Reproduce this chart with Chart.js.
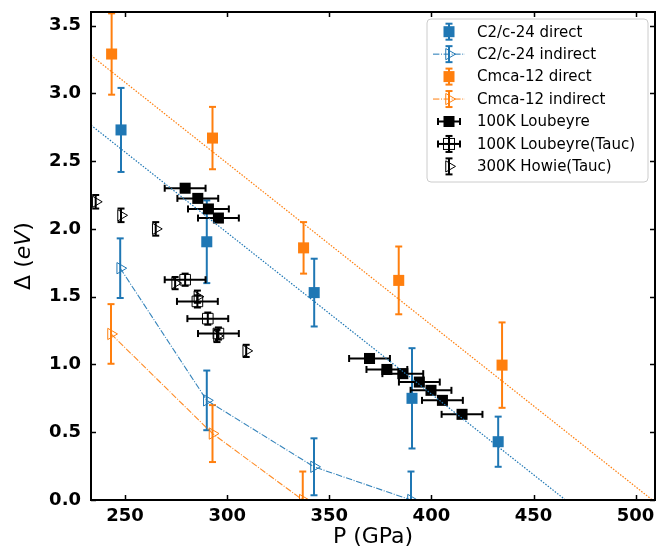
<!DOCTYPE html>
<html lang="en">
<head>
<meta charset="UTF-8">
<title>Band gap vs pressure</title>
<script src="https://cdn.jsdelivr.net/npm/chart.js"></script>
<style>
  body { margin: 0; background: #fff; }
</style>
</head>
<body>
<canvas id="gapChart" width="657" height="550"></canvas>
<script>
// values
const pTicks = [250, 300, 350, 400, 450, 500];
const gapTicks = [0, 0.5, 1.0, 1.5, 2.0, 2.5, 3.0, 3.5];

const c2cDirectP = [248, 290, 342.6, 390.5, 432.7];
const c2cDirectGap = [2.73, 1.905, 1.53, 0.75, 0.43];
const c2cDirectErr = [0.31, 0.305, 0.25, 0.37, 0.185];

const c2cIndirectP = [247.6, 290, 342.5, 390];
const c2cIndirectGap = [1.71, 0.735, 0.245, 0.0];
const c2cIndirectErr = [0.22, 0.22, 0.21, 0.21];

const cmcaDirectP = [243.4, 292.8, 337.4, 384, 434.6];
const cmcaDirectGap = [3.29, 2.67, 1.86, 1.62, 0.995];
const cmcaDirectErr = [0.30, 0.23, 0.19, 0.25, 0.315];

const cmcaIndirectP = [243.1, 292.8, 337];
const cmcaIndirectGap = [1.225, 0.49, 0.0];
const cmcaIndirectErr = [0.22, 0.21, 0.21];

const loubeyreP = [279.4, 285.6, 290.8, 295.7, 369.7, 378.2, 386, 394.1, 399.8, 405.4, 415];
const loubeyreGap = [2.30, 2.225, 2.147, 2.08, 1.044, 0.963, 0.932, 0.87, 0.809, 0.735, 0.632];
const loubeyrePErr = [10, 10, 10, 10, 10, 10, 10, 10, 10, 10, 10];

const taucP = [279.4, 285.4, 290.5, 295.7];
const taucGap = [1.625, 1.465, 1.338, 1.228];
const taucPErr = [10, 10, 10, 10];
const taucGapErr = [0.045, 0.045, 0.045, 0.045];

const howieP = [235.6, 248, 265, 274.5, 285.4, 295, 309.3];
const howieGap = [2.20, 2.10, 2.00, 1.60, 1.50, 1.21, 1.10];
const howieErr = [0.05, 0.05, 0.05, 0.045, 0.045, 0.045, 0.045];

// linear fits through the direct gaps (end points)
const c2cFitP = [233.3, 465.7];
const c2cFitGap = [2.765, 0];
const cmcaFitP = [233.3, 508.2];
const cmcaFitGap = [3.28, 0];

const BLUE = '#1f77b4';
const ORANGE = '#ff7f0e';
const FONT = "'DejaVu Sans', sans-serif";

const pts = (xs, ys) => xs.map((v, i) => ({x: v, y: ys[i]}));

// error bars drawn under the markers, like matplotlib does
const errorBars = {
    id: 'errorBars',
    beforeDatasetsDraw(chart) {
        const {ctx, chartArea: a, scales: {x, y}} = chart;
        const cap = 3.5;
        ctx.save();
        ctx.beginPath();
        ctx.rect(a.left, a.top, a.right - a.left, a.bottom - a.top);
        ctx.clip();
        ctx.lineWidth = 2;
        const seg = (x1, y1, x2, y2) => { ctx.beginPath(); ctx.moveTo(x1, y1); ctx.lineTo(x2, y2); ctx.stroke(); };
        chart.data.datasets.forEach(ds => {
            if (!ds.errY && !ds.errX) return;
            ctx.strokeStyle = ds.errColor;
            ds.data.forEach((pt, i) => {
                const px = x.getPixelForValue(pt.x), py = y.getPixelForValue(pt.y);
                if (ds.errY) {
                    const t = y.getPixelForValue(pt.y + ds.errY[i]);
                    const b = y.getPixelForValue(pt.y - ds.errY[i]);
                    seg(px, t, px, b);
                    seg(px - cap, t, px + cap, t);
                    seg(px - cap, b, px + cap, b);
                }
                if (ds.errX) {
                    const l = x.getPixelForValue(pt.x - ds.errX[i]);
                    const r = x.getPixelForValue(pt.x + ds.errX[i]);
                    seg(l, py, r, py);
                    seg(l, py - cap, l, py + cap);
                    seg(r, py - cap, r, py + cap);
                }
            });
        });
        ctx.restore();
    }
};

// box around the plot, inward ticks on four sides, y title
const frame = {
    id: 'frame',
    afterDraw(chart) {
        const {ctx, chartArea: a, scales: {x, y}} = chart;
        const len = 5;
        ctx.save();
        ctx.strokeStyle = '#000';
        ctx.lineWidth = 1.5;
        x.ticks.forEach(t => {
            const px = Math.round(x.getPixelForValue(t.value)) + 0.5;
            ctx.beginPath();
            ctx.moveTo(px, a.bottom); ctx.lineTo(px, a.bottom - len);
            ctx.moveTo(px, a.top); ctx.lineTo(px, a.top + len);
            ctx.stroke();
        });
        y.ticks.forEach(t => {
            const py = Math.round(y.getPixelForValue(t.value)) + 0.5;
            ctx.beginPath();
            ctx.moveTo(a.left, py); ctx.lineTo(a.left + len, py);
            ctx.moveTo(a.right, py); ctx.lineTo(a.right - len, py);
            ctx.stroke();
        });
        ctx.lineWidth = 2;
        ctx.strokeRect(a.left, a.top, a.right - a.left, a.bottom - a.top);

        // y title with italic unit
        const parts = [['Δ (', 'normal'], ['eV', 'italic'], [')', 'normal']];
        ctx.translate(24, (a.top + a.bottom) / 2);
        ctx.rotate(-Math.PI / 2);
        ctx.fillStyle = '#000';
        ctx.textBaseline = 'middle';
        let total = 0;
        parts.forEach(p => { ctx.font = p[1] + ' 22px ' + FONT; total += ctx.measureText(p[0]).width; });
        let cx = -total / 2;
        parts.forEach(p => {
            ctx.font = p[1] + ' 22px ' + FONT;
            ctx.fillText(p[0], cx, 0);
            cx += ctx.measureText(p[0]).width;
        });
        ctx.restore();
    }
};

// legend with error-bar glyphs, top right
const legendBox = {
    id: 'legendBox',
    afterDraw(chart) {
        const {ctx} = chart;
        const bx = 427, by = 19, bw = 221, bh = 163, r = 4;
        ctx.save();
        ctx.beginPath();
        ctx.roundRect(bx, by, bw, bh, r);
        ctx.fillStyle = 'rgba(255,255,255,0.8)';
        ctx.fill();
        ctx.strokeStyle = '#cccccc';
        ctx.lineWidth = 1;
        ctx.stroke();

        const mx = 449, tx = 477;
        const rows = [
            ['C2/c-24 direct', BLUE, 'direct'],
            ['C2/c-24 indirect', BLUE, 'indirect'],
            ['Cmca-12 direct', ORANGE, 'direct'],
            ['Cmca-12 indirect', ORANGE, 'indirect'],
            ['100K Loubeyre', '#000', 'loub'],
            ['100K Loubeyre(Tauc)', '#000', 'tauc'],
            ['300K Howie(Tauc)', '#000', 'howie']
        ];
        const seg = (x1, y1, x2, y2) => { ctx.beginPath(); ctx.moveTo(x1, y1); ctx.lineTo(x2, y2); ctx.stroke(); };
        const vbar = (cy) => { seg(mx, cy - 8, mx, cy + 8); seg(mx - 3.5, cy - 8, mx + 3.5, cy - 8); seg(mx - 3.5, cy + 8, mx + 3.5, cy + 8); };
        const hbar = (cy) => { seg(mx - 11, cy, mx + 11, cy); seg(mx - 11, cy - 3.5, mx - 11, cy + 3.5); seg(mx + 11, cy - 3.5, mx + 11, cy + 3.5); };
        const tri = (cy) => {
            ctx.beginPath();
            ctx.moveTo(mx + 6.5, cy);
            ctx.lineTo(mx - 3.25, cy - 5.6);
            ctx.lineTo(mx - 3.25, cy + 5.6);
            ctx.closePath();
            ctx.lineWidth = 1;
            ctx.stroke();
        };
        rows.forEach((row, i) => {
            const cy = 31.7 + i * 22.45;
            const col = row[1];
            ctx.strokeStyle = col;
            ctx.fillStyle = col;
            if (row[2] === 'direct') {
                ctx.lineWidth = 2; vbar(cy);
                ctx.fillRect(mx - 5.5, cy - 5.5, 11, 11);
            } else if (row[2] === 'indirect') {
                ctx.lineWidth = 1;
                ctx.setLineDash([6.4, 1.6, 1, 1.6]);
                seg(mx - 16, cy, mx + 16, cy);
                ctx.setLineDash([]);
                ctx.lineWidth = 2; vbar(cy);
                tri(cy);
            } else if (row[2] === 'loub') {
                ctx.lineWidth = 2; hbar(cy);
                ctx.fillRect(mx - 5.5, cy - 5.5, 11, 11);
            } else if (row[2] === 'tauc') {
                ctx.lineWidth = 2; hbar(cy); vbar(cy);
                ctx.lineWidth = 1;
                ctx.strokeRect(mx - 5.5, cy - 5.5, 11, 11);
            } else {
                ctx.lineWidth = 2; vbar(cy);
                tri(cy);
            }
            ctx.fillStyle = '#000';
            ctx.font = '15px ' + FONT;
            ctx.textBaseline = 'middle';
            ctx.fillText(row[0], tx, cy + 1);
        });
        ctx.restore();
    }
};

const ctx = document.getElementById('gapChart').getContext('2d');
const gapChart = new Chart(ctx, {
    type: 'scatter',
    data: {
        datasets: [
            {
                label: 'C2/c-24 fit', data: pts(c2cFitP, c2cFitGap), showLine: true,
                borderColor: BLUE, borderWidth: 1.2, borderDash: [1.5, 1.5], pointRadius: 0
            },
            {
                label: 'Cmca-12 fit', data: pts(cmcaFitP, cmcaFitGap), showLine: true,
                borderColor: ORANGE, borderWidth: 1.2, borderDash: [1.5, 1.5], pointRadius: 0
            },
            {
                label: 'C2/c-24 direct', data: pts(c2cDirectP, c2cDirectGap),
                errY: c2cDirectErr, errColor: BLUE,
                pointStyle: 'rect', pointRadius: 7.8, backgroundColor: BLUE, borderColor: BLUE, borderWidth: 0
            },
            {
                label: 'C2/c-24 indirect', data: pts(c2cIndirectP, c2cIndirectGap),
                errY: c2cIndirectErr, errColor: BLUE, showLine: true,
                borderColor: 'rgba(31,119,180,0.9)', borderWidth: 1.1, borderDash: [6.4, 1.6, 1, 1.6],
                pointStyle: 'triangle', pointRotation: 90, pointRadius: 6.5,
                pointBackgroundColor: 'rgba(0,0,0,0)', pointBorderColor: BLUE, pointBorderWidth: 1
            },
            {
                label: 'Cmca-12 direct', data: pts(cmcaDirectP, cmcaDirectGap),
                errY: cmcaDirectErr, errColor: ORANGE,
                pointStyle: 'rect', pointRadius: 7.8, backgroundColor: ORANGE, borderColor: ORANGE, borderWidth: 0
            },
            {
                label: 'Cmca-12 indirect', data: pts(cmcaIndirectP, cmcaIndirectGap),
                errY: cmcaIndirectErr, errColor: ORANGE, showLine: true,
                borderColor: 'rgba(255,127,14,0.9)', borderWidth: 1.1, borderDash: [6.4, 1.6, 1, 1.6],
                pointStyle: 'triangle', pointRotation: 90, pointRadius: 6.5,
                pointBackgroundColor: 'rgba(0,0,0,0)', pointBorderColor: ORANGE, pointBorderWidth: 1
            },
            {
                label: '100K Loubeyre', data: pts(loubeyreP, loubeyreGap),
                errX: loubeyrePErr, errColor: '#000',
                pointStyle: 'rect', pointRadius: 7.8, backgroundColor: '#000', borderColor: '#000', borderWidth: 0
            },
            {
                label: '100K Loubeyre(Tauc)', data: pts(taucP, taucGap),
                errX: taucPErr, errY: taucGapErr, errColor: '#000',
                pointStyle: 'rect', pointRadius: 7.5, backgroundColor: 'rgba(0,0,0,0)', borderColor: '#000', borderWidth: 1
            },
            {
                label: '300K Howie(Tauc)', data: pts(howieP, howieGap),
                errY: howieErr, errColor: '#000',
                pointStyle: 'triangle', pointRotation: 90, pointRadius: 6.5,
                backgroundColor: 'rgba(0,0,0,0)', borderColor: '#000', borderWidth: 1
            }
        ]
    },
    options: {
        responsive: false,
        animation: false,
        events: [],
        layout: { autoPadding: false, padding: { top: 12, right: 2, left: 0, bottom: 0 } },
        plugins: { legend: { display: false }, tooltip: { enabled: false } },
        scales: {
            x: {
                type: 'linear', min: 233.3, max: 509.5,
                afterBuildTicks: s => { s.ticks = pTicks.map(v => ({value: v})); },
                afterFit: s => { s.height = 50; s.paddingLeft = 0; s.paddingRight = 0; },
                grid: { display: false, drawTicks: false },
                border: { display: false },
                ticks: { color: '#000', padding: 6, font: { family: FONT, size: 18, weight: 'bold' } },
                title: { display: true, text: 'P (GPa)', color: '#000', padding: 0, font: { family: FONT, size: 22 } }
            },
            y: {
                type: 'linear', min: 0, max: 3.6,
                afterBuildTicks: s => { s.ticks = gapTicks.map(v => ({value: v})); },
                afterFit: s => { s.width = 91; s.paddingTop = 0; s.paddingBottom = 0; },
                grid: { display: false, drawTicks: false },
                border: { display: false },
                ticks: { color: '#000', padding: 10, font: { family: FONT, size: 18, weight: 'bold' },
                         callback: v => v.toFixed(1) }
            }
        }
    },
    plugins: [errorBars, frame, legendBox]
});
</script>
</body>
</html>
